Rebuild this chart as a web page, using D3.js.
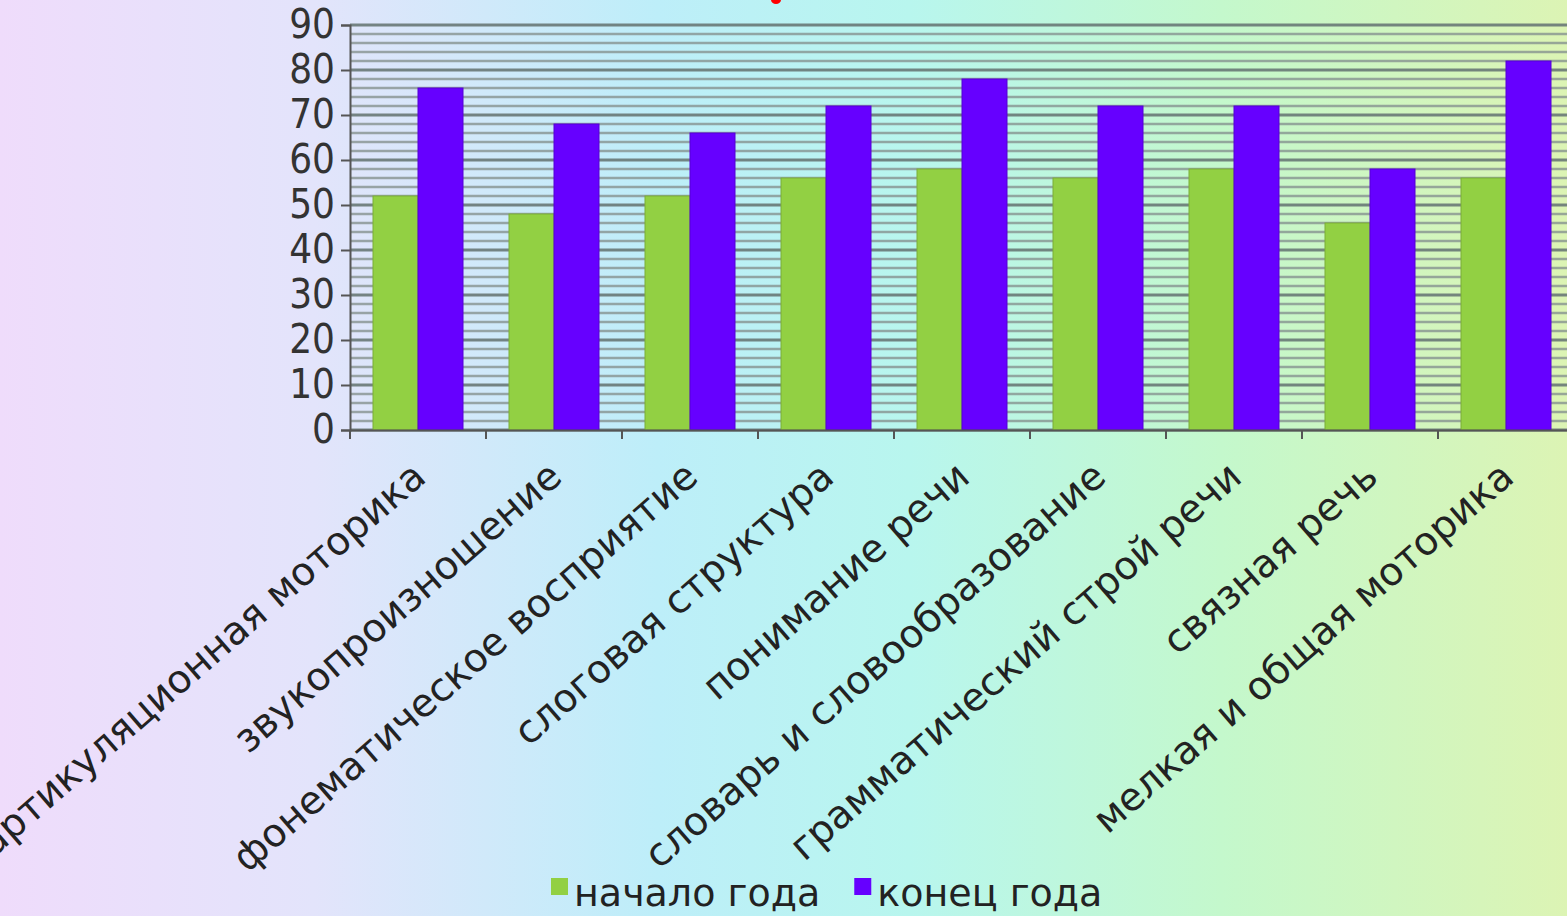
<!DOCTYPE html>
<html>
<head>
<meta charset="utf-8">
<script src="https://cdn.jsdelivr.net/npm/d3@7"></script>
<style>
  html, body { margin: 0; padding: 0; overflow: hidden; }
  body { width: 1567px; height: 916px; font-family: "DejaVu Sans", sans-serif; }
</style>
</head>
<body>
<div id="chart"></div>
<script>
// данные диаграммы
const categories = [
  "артикуляционная моторика",
  "звукопроизношение",
  "фонематическое восприятие",
  "слоговая структура",
  "понимание речи",
  "словарь и словообразование",
  "грамматический строй речи",
  "связная речь",
  "мелкая и общая моторика"
];
const seriesNames = ["начало года", "конец года"];
const startValues = [52, 48, 52, 56, 58, 56, 58, 46, 56];
const endValues = [76, 68, 66, 72, 78, 72, 72, 58, 82];
const yTicks = [0, 10, 20, 30, 40, 50, 60, 70, 80, 90];
const colors = ["#92d043", "#6600ff"];

const width = 1567;
const height = 916;

const svg = d3.select("#chart")
  .append("svg")
  .attr("width", width)
  .attr("height", height);

// фон
const defs = svg.append("defs");
const grad = defs.append("linearGradient")
  .attr("id", "bg")
  .attr("x1", "0%").attr("x2", "100%")
  .attr("y1", "0%").attr("y2", "0%");
[
  [0, "#efdcfb"],
  [0.2, "#e3e4fb"],
  [0.42, "#bdeef9"],
  [0.58, "#b8f6ee"],
  [0.78, "#c4f8cc"],
  [1, "#dcf4b4"]
].forEach(([o, c]) => grad.append("stop").attr("offset", o).attr("stop-color", c));

svg.append("rect")
  .attr("width", width)
  .attr("height", height)
  .attr("fill", "url(#bg)");

// остаток заголовка сверху
svg.append("ellipse")
  .attr("cx", 776).attr("cy", 0)
  .attr("rx", 5).attr("ry", 4)
  .attr("fill", "#ff0000");

const x0 = 350;
const step = 136;

const x = d3.scaleBand()
  .domain(categories)
  .range([x0, x0 + step * categories.length])
  .padding(0);

const xSeries = d3.scaleBand()
  .domain(seriesNames)
  .range([23, step - 23])
  .padding(0);

const y = d3.scaleLinear()
  .domain([0, 90])
  .range([430, 25]);

// сетка
const grid = svg.append("g");
grid.selectAll("line")
  .data(d3.range(0, 91, 2))
  .join("line")
  .attr("x1", x0)
  .attr("x2", width)
  .attr("y1", d => y(d))
  .attr("y2", d => y(d))
  .attr("stroke", d => d % 10 === 0 ? "#687875" : "#869290")
  .attr("stroke-opacity", d => d % 10 === 0 ? 0.9 : 0.8)
  .attr("stroke-width", d => d % 10 === 0 ? 3 : 2.5);

// столбцы
const groups = svg.append("g")
  .selectAll("g")
  .data(categories)
  .join("g")
  .attr("transform", d => `translate(${x(d)},0)`);

groups.selectAll("rect")
  .data((d, i) => [
    { s: seriesNames[0], v: startValues[i], c: colors[0] },
    { s: seriesNames[1], v: endValues[i], c: colors[1] }
  ])
  .join("rect")
  .attr("x", d => xSeries(d.s))
  .attr("width", xSeries.bandwidth())
  .attr("y", d => y(d.v))
  .attr("height", d => y(0) - y(d.v))
  .attr("fill", d => d.c)
  .attr("stroke", d => d3.color(d.c).darker(0.5))
  .attr("stroke-width", 1);

// ось Y
const yAxis = d3.axisLeft(y)
  .tickValues(yTicks)
  .tickSize(9)
  .tickPadding(6);

const gy = svg.append("g")
  .attr("transform", `translate(${x0},0)`)
  .call(yAxis);
gy.select(".domain").attr("stroke", "#555").attr("stroke-width", 2);
gy.selectAll(".tick line").attr("stroke", "#555").attr("stroke-width", 2);
gy.selectAll(".tick text")
  .attr("fill", "#333")
  .style("font-family", "'DejaVu Sans Condensed', 'DejaVu Sans', sans-serif")
  .style("font-size", "40px");

// ось X
const xAxis = d3.axisBottom(x)
  .tickValues([])
  .tickSizeOuter(0);

const gx = svg.append("g")
  .attr("transform", `translate(0,${y(0)})`)
  .call(xAxis);
gx.select(".domain").attr("stroke", "#555").attr("stroke-width", 2);

gx.selectAll(".sep")
  .data(categories)
  .join("line")
  .attr("class", "sep")
  .attr("x1", d => x(d))
  .attr("x2", d => x(d))
  .attr("y1", 0)
  .attr("y2", 9)
  .attr("stroke", "#555")
  .attr("stroke-width", 2);

// подписи категорий
svg.append("g")
  .selectAll("text")
  .data(categories)
  .join("text")
  .attr("transform", d => `translate(${x(d) + x.bandwidth() / 2 + 10},${y(0) + 50}) rotate(-41)`)
  .attr("text-anchor", "end")
  .attr("fill", "#222")
  .style("font-size", "39px")
  .text(d => d);

// легенда
const legend = svg.append("g")
  .attr("transform", "translate(551,878)");

let lx = 0;
seriesNames.forEach((name, i) => {
  legend.append("rect")
    .attr("x", lx)
    .attr("y", 0)
    .attr("width", 17)
    .attr("height", 17)
    .attr("fill", colors[i]);
  const t = legend.append("text")
    .attr("x", lx + 23)
    .attr("y", 28)
    .attr("fill", "#222")
    .style("font-size", "38px")
    .text(name);
  lx += 23 + t.node().getComputedTextLength() + 34;
});
</script>
</body>
</html>
